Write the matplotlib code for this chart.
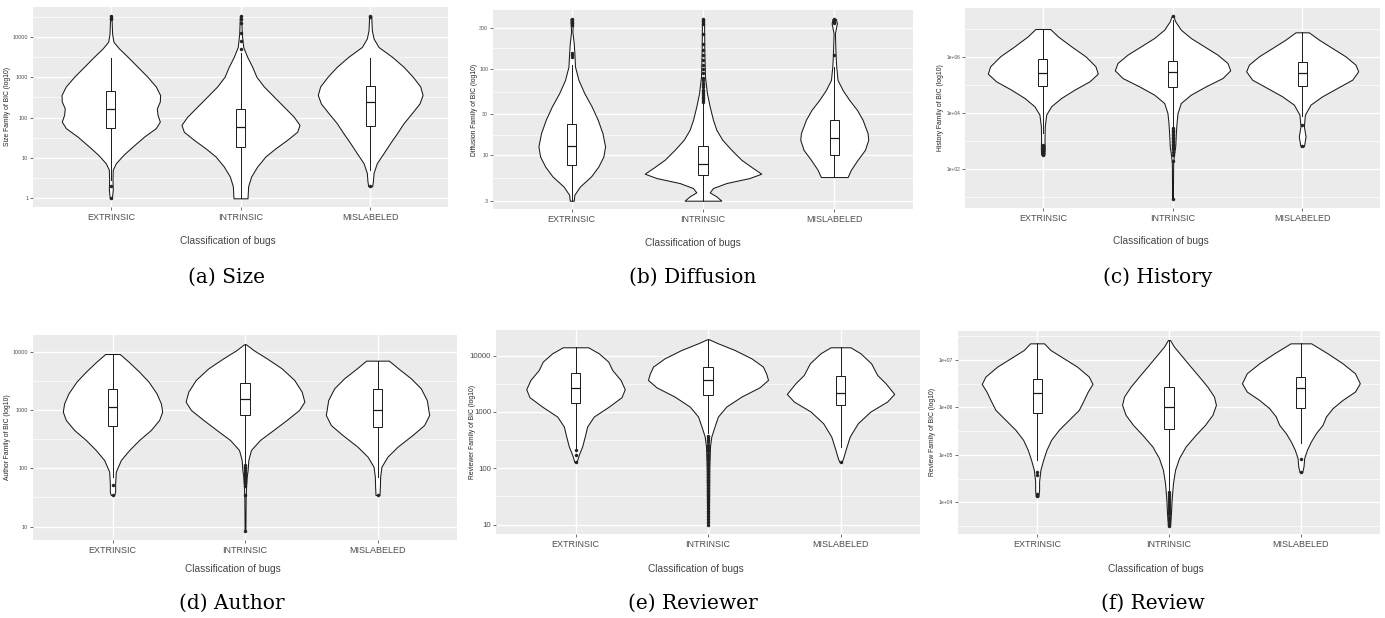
import numpy as np
import matplotlib.pyplot as plt

groups = ["EXTRINSIC", "INTRINSIC", "MISLABELED"]
xlabel = "Classification of bugs"

# violin outlines: log10 level and half width (category units)
# box stats in log10: [whisker low, q1, median, q3, whisker high]

# (a) Size
size_lv = [
    [4.51, 4.08, 3.88, 3.71, 3.51, 3.26, 3.01, 2.77, 2.56, 2.40, 2.23, 2.07, 1.90, 1.74, 1.53, 1.28, 1.08, 0.87, 0.71, 0.46, 0.21, 0.0],
    [4.51, 4.08, 3.75, 3.51, 3.26, 3.01, 2.77, 2.52, 2.27, 2.02, 1.82, 1.65, 1.45, 1.24, 1.04, 0.79, 0.54, 0.30, 0.0],
    [4.51, 4.16, 3.96, 3.75, 3.51, 3.26, 3.01, 2.77, 2.56, 2.35, 2.11, 1.86, 1.61, 1.37, 1.12, 0.87, 0.63, 0.42, 0.30],
]
size_hw = [
    [0.005, 0.010, 0.020, 0.064, 0.129, 0.206, 0.283, 0.347, 0.380, 0.378, 0.355, 0.360, 0.378, 0.347, 0.257, 0.167, 0.098, 0.039, 0.015, 0.013, 0.015, 0.008],
    [0.005, 0.010, 0.021, 0.051, 0.090, 0.123, 0.180, 0.257, 0.334, 0.411, 0.455, 0.437, 0.360, 0.270, 0.193, 0.129, 0.082, 0.059, 0.054],
    [0.008, 0.013, 0.026, 0.064, 0.167, 0.257, 0.329, 0.386, 0.404, 0.380, 0.321, 0.257, 0.206, 0.154, 0.103, 0.051, 0.026, 0.021, 0.015],
]
size_box = [[0.46, 1.75, 2.21, 2.67, 3.47], [0.0, 1.28, 1.76, 2.22, 3.60], [0.71, 1.79, 2.38, 2.78, 3.47]]
size_out = [[4.51, 4.47, 4.44, 0.30, 0.0], [4.51, 4.45, 4.35, 4.1, 3.9, 3.70], [4.51, 4.48, 0.30]]
size_ticks = [1, 10, 100, 1000, 10000]

# (b) Diffusion
diff_lv = [
    [2.577, 2.431, 2.296, 2.181, 2.027, 1.873, 1.719, 1.565, 1.412, 1.258, 1.104, 0.988, 0.873, 0.758, 0.642, 0.546, 0.477],
    [2.577, 2.219, 1.912, 1.719, 1.565, 1.412, 1.296, 1.181, 1.065, 0.950, 0.854, 0.789, 0.739, 0.681, 0.623, 0.573, 0.527, 0.477],
    [2.577, 2.527, 2.412, 2.162, 2.027, 1.873, 1.758, 1.642, 1.527, 1.412, 1.258, 1.181, 1.065, 0.950, 0.835, 0.750],
]
diff_hw = [
    [0.010, 0.005, 0.015, 0.020, 0.025, 0.051, 0.096, 0.152, 0.198, 0.234, 0.254, 0.241, 0.203, 0.147, 0.063, 0.020, 0.015],
    [0.008, 0.010, 0.015, 0.030, 0.051, 0.076, 0.102, 0.147, 0.216, 0.292, 0.381, 0.444, 0.355, 0.178, 0.076, 0.051, 0.102, 0.140],
    [0.013, 0.020, 0.005, 0.010, 0.015, 0.025, 0.063, 0.114, 0.173, 0.216, 0.254, 0.259, 0.234, 0.178, 0.127, 0.102],
]
diff_box = [[0.477, 0.889, 1.108, 1.362, 2.046], [0.477, 0.777, 0.896, 1.112, 1.604], [0.750, 1.0, 1.200, 1.412, 2.027]]
diff_out = [
    [2.577, 2.546, 2.527, 2.508, 2.181, 2.162, 2.142],
    [2.577, 2.55, 2.52, 2.40, 2.29, 2.22, 2.16, 2.10, 2.05, 2.0, 1.95, 1.9, 1.87, 1.84, 1.81, 1.79,
     1.76, 1.74, 1.72, 1.70, 1.68, 1.66, 1.64, 1.62],
    [2.577, 2.56, 2.54, 2.527, 2.162],
]
diff_ticks = [3, 10, 30, 100, 300]

# (c) History
hist_lv = [
    [7.003, 6.740, 6.382, 6.024, 5.666, 5.403, 5.128, 4.830, 4.531, 4.233, 3.934, 3.516, 3.039, 2.740, 2.501],
    [7.481, 7.278, 6.979, 6.681, 6.382, 6.084, 5.785, 5.522, 5.248, 4.949, 4.651, 4.352, 3.994, 3.636, 3.278, 2.800, 2.442, 2.2, 0.93],
    [6.884, 6.621, 6.322, 6.024, 5.725, 5.487, 5.188, 4.890, 4.591, 4.293, 3.934, 3.516, 3.158, 2.919, 2.800],
]
hist_hw = [
    [0.057, 0.116, 0.219, 0.329, 0.406, 0.424, 0.360, 0.244, 0.141, 0.064, 0.026, 0.015, 0.013, 0.015, 0.013],
    [0.005, 0.021, 0.064, 0.141, 0.244, 0.347, 0.424, 0.445, 0.386, 0.257, 0.141, 0.064, 0.039, 0.031, 0.026, 0.021, 0.010, 0.005, 0.003],
    [0.051, 0.129, 0.231, 0.334, 0.411, 0.432, 0.386, 0.270, 0.154, 0.064, 0.021, 0.013, 0.026, 0.018, 0.013],
]
hist_box = [[3.28, 4.973, 5.415, 5.916, 7.003], [3.516, 4.913, 5.451, 5.869, 7.337], [3.875, 4.973, 5.415, 5.821, 6.884]]
hist_out = [
    [2.86, 2.80, 2.74, 2.68, 2.62, 2.56, 2.50],
    [7.48, 3.45, 3.40, 3.35, 3.30, 3.25, 3.20, 3.15, 3.10, 3.05, 3.0, 2.95, 2.9, 2.85, 2.8, 2.75, 2.7, 2.6, 2.5, 2.26, 0.93],
    [3.576, 2.824],
]
hist_ticks = [1e2, 1e4, 1e6]

# (d) Author
auth_lv = [
    [3.96, 3.829, 3.657, 3.486, 3.286, 3.114, 2.971, 2.829, 2.657, 2.486, 2.314, 2.143, 1.943, 1.743, 1.6, 1.543],
    [4.126, 4.029, 3.886, 3.714, 3.514, 3.314, 3.143, 3.0, 2.829, 2.657, 2.486, 2.314, 2.143, 1.971, 1.857, 1.686, 1.486, 0.93],
    [3.846, 3.714, 3.543, 3.371, 3.171, 2.914, 2.743, 2.571, 2.371, 2.2, 2.029, 1.857, 1.686, 1.543],
]
auth_hw = [
    [0.055, 0.121, 0.201, 0.272, 0.332, 0.365, 0.375, 0.352, 0.289, 0.201, 0.126, 0.063, 0.025, 0.020, 0.020, 0.013],
    [0.008, 0.063, 0.164, 0.277, 0.372, 0.428, 0.448, 0.408, 0.314, 0.214, 0.113, 0.045, 0.025, 0.020, 0.013, 0.008, 0.005, 0.003],
    [0.086, 0.156, 0.252, 0.327, 0.372, 0.390, 0.352, 0.264, 0.151, 0.075, 0.030, 0.020, 0.018, 0.015],
]
auth_box = [[1.857, 2.72, 3.046, 3.36, 3.96], [2.086, 2.909, 3.189, 3.457, 4.126], [1.857, 2.714, 3.0, 3.354, 3.846]]
auth_out = [[1.714, 1.543], [2.06, 2.03, 2.0, 1.97, 1.94, 1.91, 1.88, 1.85, 1.82, 1.79, 1.75, 1.70, 1.543, 0.93], [1.543]]
auth_ticks = [10, 100, 1000, 10000]

# (e) Reviewer
revr_lv = [
    [4.148, 4.041, 3.894, 3.746, 3.569, 3.403, 3.262, 3.096, 2.919, 2.742, 2.565, 2.387, 2.240, 2.110],
    [4.289, 4.219, 4.1, 3.953, 3.805, 3.675, 3.569, 3.439, 3.273, 3.096, 2.919, 2.712, 2.565, 2.387, 2.033, 1.442, 1.0],
    [4.148, 4.041, 3.864, 3.657, 3.510, 3.321, 3.185, 3.008, 2.801, 2.565, 2.328, 2.181, 2.110],
]
revr_hw = [
    [0.096, 0.176, 0.247, 0.277, 0.340, 0.372, 0.347, 0.252, 0.138, 0.088, 0.070, 0.050, 0.025, 0.008],
    [0.008, 0.075, 0.201, 0.327, 0.415, 0.440, 0.453, 0.390, 0.252, 0.138, 0.075, 0.045, 0.025, 0.015, 0.010, 0.008, 0.005],
    [0.075, 0.151, 0.231, 0.277, 0.340, 0.405, 0.352, 0.226, 0.131, 0.070, 0.038, 0.020, 0.008],
]
revr_box = [[2.358, 3.155, 3.427, 3.687, 4.148], [2.624, 3.309, 3.569, 3.805, 4.289], [2.387, 3.132, 3.344, 3.646, 4.148]]
revr_out = [
    [2.317, 2.228, 2.110],
    [2.58, 2.54, 2.50, 2.46, 2.42, 2.38, 2.34, 2.30, 2.26, 2.22, 2.18, 2.14, 2.10, 2.05, 2.0, 1.95, 1.9, 1.85,
     1.8, 1.75, 1.7, 1.65, 1.6, 1.55, 1.5, 1.45, 1.4, 1.35, 1.3, 1.25, 1.2, 1.15, 1.1, 1.05, 1.0],
    [2.110],
]
revr_ticks = [10, 100, 1000, 10000]

# (f) Review
revw_lv = [
    [7.350, 7.210, 7.035, 6.860, 6.650, 6.495, 6.334, 6.159, 5.949, 5.739, 5.528, 5.318, 5.108, 4.898, 4.687, 4.442, 4.267, 4.126],
    [7.420, 7.280, 7.070, 6.860, 6.650, 6.439, 6.229, 6.054, 5.844, 5.633, 5.423, 5.178, 4.933, 4.687, 4.407, 4.057, 3.776, 3.510],
    [7.350, 7.140, 6.930, 6.720, 6.509, 6.334, 6.159, 5.984, 5.809, 5.633, 5.458, 5.283, 5.108, 4.933, 4.758, 4.638],
]
revw_hw = [
    [0.053, 0.101, 0.202, 0.303, 0.392, 0.420, 0.384, 0.354, 0.316, 0.240, 0.164, 0.106, 0.071, 0.046, 0.025, 0.015, 0.015, 0.010],
    [0.008, 0.038, 0.101, 0.164, 0.228, 0.291, 0.341, 0.356, 0.329, 0.273, 0.202, 0.126, 0.076, 0.046, 0.030, 0.020, 0.015, 0.008],
    [0.078, 0.202, 0.316, 0.410, 0.447, 0.410, 0.316, 0.240, 0.190, 0.164, 0.114, 0.076, 0.046, 0.025, 0.020, 0.010],
]
revw_box = [[4.898, 5.893, 6.299, 6.608, 7.350], [4.267, 5.542, 6.005, 6.425, 7.42], [5.248, 5.984, 6.418, 6.650, 7.35]]
revw_out = [
    [4.631, 4.582, 4.176, 4.126],
    [4.21, 4.17, 4.13, 4.09, 4.05, 4.01, 3.97, 3.93, 3.89, 3.85, 3.8, 3.75, 3.7, 3.65, 3.6, 3.55, 3.51],
    [4.912, 4.638],
]
revw_ticks = [1e4, 1e5, 1e6, 1e7]

W, H = 1385, 618
fig = plt.figure(figsize=(W / 100, H / 100), dpi=100)


def add_px_axes(x0, y0, x1, y1):
    return fig.add_axes([x0 / W, 1 - y1 / H, (x1 - x0) / W, (y1 - y0) / H])


# (data, ticks, sci labels, ylim, ylabel, caption, axes px rect, ylabel x, xlabel pos, caption pos, tick font)
panels = [
    (size_lv, size_hw, size_box, size_out, size_ticks, False, (-0.215, 4.74), "Size Family of BIC (log10)",
     "(a) Size", (33, 7, 448, 207), 8, (228, 241), (227, 277), 3.9),
    (diff_lv, diff_hw, diff_box, diff_out, diff_ticks, False, (0.381, 2.681), "Diffusion Family of BIC (log10)",
     "(b) Diffusion", (493, 10, 913, 209), 475, (693, 243), (693, 277), 3.8),
    (hist_lv, hist_hw, hist_box, hist_out, hist_ticks, True, (0.591, 7.755), "History Family of BIC (log10)",
     "(c) History", (965, 8, 1380, 208), 941, (1161, 241), (1158, 277), 3.5),
    (auth_lv, auth_hw, auth_box, auth_out, auth_ticks, False, (0.771, 4.286), "Author Family of BIC (log10)",
     "(d) Author", (33, 335, 457, 540), 8, (233, 569), (232, 603), 3.9),
    (revr_lv, revr_hw, revr_box, revr_out, revr_ticks, False, (0.834, 4.455), "Reviewer Family of BIC (log10)",
     "(e) Reviewer", (496, 330, 920, 534), 472, (696, 569), (693, 603), 5.7),
    (revw_lv, revw_hw, revw_box, revw_out, revw_ticks, True, (3.335, 7.61), "Review Family of BIC (log10)",
     "(f) Review", (958, 331, 1380, 534), 933, (1156, 569), (1153, 603), 3.7),
]

sans = "Liberation Sans"

for (lvs, hws, boxes, outs, ticks, sci, ylim, ylab, cap, rect, ylab_x, xlab_pos, cap_pos, tfs) in panels:
    ax = add_px_axes(*rect)
    ax.set_facecolor("#EBEBEB")
    for s in ax.spines.values():
        s.set_visible(False)

    for i, (lv, hw) in enumerate(zip(lvs, hws)):
        lv = np.array(lv)
        hw = np.array(hw)
        ax.fill_betweenx(lv, i - hw, i + hw, facecolor="white", edgecolor="#1a1a1a", lw=0.75, zorder=2)

    stats = []
    for b, o in zip(boxes, outs):
        stats.append(dict(whislo=b[0], q1=b[1], med=b[2], q3=b[3], whishi=b[4], fliers=o))
    ax.bxp(stats, positions=[0, 1, 2], widths=0.07, patch_artist=True, showcaps=False,
           manage_ticks=False, zorder=3,
           boxprops=dict(facecolor="white", edgecolor="#1a1a1a", lw=0.7),
           whiskerprops=dict(color="#1a1a1a", lw=0.7),
           medianprops=dict(color="#1a1a1a", lw=0.9),
           flierprops=dict(marker="o", markersize=2.2, markerfacecolor="#222222",
                           markeredgecolor="#222222", markeredgewidth=0.3))

    pos = np.log10(ticks)
    ext = np.concatenate([[2 * pos[0] - pos[1]], pos, [2 * pos[-1] - pos[-2]]])
    minor = (ext[:-1] + ext[1:]) / 2
    minor = minor[(minor > ylim[0]) & (minor < ylim[1])]
    if sci:
        labels = ["%.0e" % t for t in ticks]
    else:
        labels = [str(int(t)) for t in ticks]
    ax.set_yticks(pos)
    ax.set_yticklabels(labels, fontsize=tfs, family=sans, color="#4D4D4D")
    ax.set_yticks(minor, minor=True)
    ax.set_ylim(*ylim)

    ax.set_xticks([0, 1, 2])
    ax.set_xticklabels(groups, fontsize=6.5, family=sans, color="#4D4D4D")
    ax.set_xlim(-0.6, 2.6)

    ax.grid(which="major", color="white", lw=1.0)
    ax.grid(which="minor", axis="y", color="white", lw=0.5)
    ax.set_axisbelow(True)
    ax.tick_params(which="major", length=2, width=0.5, color="#333333", pad=1.5)
    ax.tick_params(axis="x", pad=2.5)
    ax.tick_params(which="minor", length=0)

    x0, y0, x1, y1 = rect
    fig.text(ylab_x / W, 1 - (y0 + y1) / 2 / H, ylab, rotation=90, ha="center", va="center",
             fontsize=4.9, family=sans, color="#222222")
    fig.text(xlab_pos[0] / W, 1 - xlab_pos[1] / H, xlabel, ha="center", va="center",
             fontsize=7.3, family=sans, color="#444444")
    fig.text(cap_pos[0] / W, 1 - cap_pos[1] / H, cap, ha="center", va="center",
             fontsize=14.5, family="DejaVu Serif", color="black")

fig.savefig("out.png", dpi=100)
